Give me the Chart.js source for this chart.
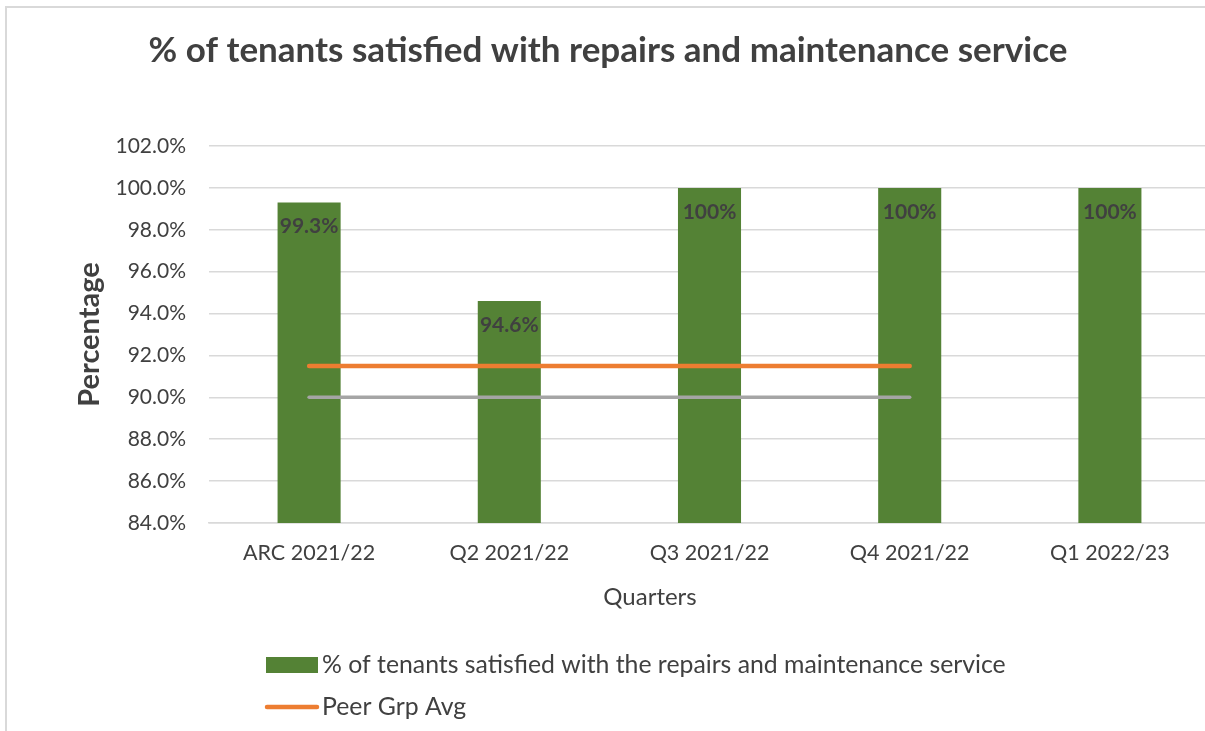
<!DOCTYPE html>
<html><head><meta charset="utf-8">
<script src="https://cdn.jsdelivr.net/npm/chart.js@4.4.0/dist/chart.umd.min.js"></script>
<style>
html,body{margin:0;padding:0;background:#fff;overflow:hidden;width:1205px;height:731px;}
#frame{position:absolute;left:5px;top:6px;width:1300px;height:800px;border:2px solid #D9D9D9;box-sizing:border-box;}
#wrap{position:absolute;left:0;top:0;width:1215px;height:731px;}
</style></head><body>
<div id="frame"></div>
<div id="wrap"><canvas id="c" width="1215" height="731"></canvas></div>
<script>
const categories = ['ARC 2021/22', 'Q2 2021/22', 'Q3 2021/22', 'Q4 2021/22', 'Q1 2022/23'];
const satisfied = [99.3, 94.6, 100, 100, 100];
const peerAvg = [91.5, 91.5, 91.5, 91.5, null];
const target = [90, 90, 90, 90, null];
const yTicks = [84, 86, 88, 90, 92, 94, 96, 98, 100, 102];

const FONT = "Lato, 'Open Sans', sans-serif";
const TXT = '#404040';

const dataLabels = {
  id: 'dataLabels',
  afterDatasetsDraw(chart) {
    const ctx = chart.ctx;
    const meta = chart.getDatasetMeta(0);
    ctx.save();
    ctx.font = 'bold 21px ' + FONT;
    ctx.fillStyle = TXT;
    ctx.textAlign = 'center';
    ctx.textBaseline = 'middle';
    meta.data.forEach((el, i) => {
      const v = chart.data.datasets[0].data[i];
      const t = (v === 100 ? '100' : v.toFixed(1)) + '%';
      ctx.fillText(t, el.x, el.y + 24);
    });
    ctx.restore();
  }
};

const customLegend = {
  id: 'customLegend',
  afterDraw(chart) {
    const ctx = chart.ctx;
    const ds = chart.data.datasets;
    ctx.save();
    // x axis title
    ctx.font = '24px ' + FONT;
    ctx.fillStyle = TXT;
    ctx.textAlign = 'center';
    ctx.textBaseline = 'middle';
    ctx.fillText('Quarters', 650, 597);
    // legend
    ctx.textAlign = 'left';
    const rows = [ds[0], ds[1]];
    rows.forEach((d, r) => {
      const cy = r === 0 ? 665 : 707;
      if (d.type === 'line') {
        ctx.strokeStyle = d.borderColor;
        ctx.lineWidth = 4.5;
        ctx.lineCap = 'round';
        ctx.beginPath();
        ctx.moveTo(267, cy);
        ctx.lineTo(317, cy);
        ctx.stroke();
      } else {
        ctx.fillStyle = d.backgroundColor;
        ctx.fillRect(266, cy - 8, 52, 16);
      }
      ctx.fillStyle = TXT;
      ctx.font = '24.8px ' + FONT;
      ctx.fillText(d.label, 322, cy);
    });
    ctx.restore();
  }
};

new Chart(document.getElementById('c'), {
  type: 'bar',
  data: {
    labels: categories,
    datasets: [
      {
        type: 'bar',
        label: '% of tenants satisfied with the repairs and maintenance service',
        data: satisfied,
        backgroundColor: '#548235',
        borderWidth: 0,
        barPercentage: 0.315,
        categoryPercentage: 1.0,
        order: 2
      },
      {
        type: 'line',
        label: 'Peer Grp Avg',
        data: peerAvg,
        borderColor: '#ED7D31',
        backgroundColor: '#ED7D31',
        borderWidth: 4.5,
        borderCapStyle: 'round',
        pointRadius: 0,
        tension: 0,
        order: 1
      },
      {
        type: 'line',
        label: 'Target',
        data: target,
        borderColor: '#A5A5A5',
        backgroundColor: '#A5A5A5',
        borderWidth: 3.5,
        borderCapStyle: 'round',
        pointRadius: 0,
        tension: 0,
        order: 1
      }
    ]
  },
  options: {
    responsive: false,
    animation: false,
    layout: { padding: { left: 6, right: 5, top: 7, bottom: 0 } },
    plugins: {
      legend: { display: false },
      tooltip: { enabled: false },
      title: {
        display: true,
        text: '% of tenants satisfied with repairs and maintenance service',
        color: TXT,
        font: { family: FONT, size: 35, weight: 'bold', lineHeight: 1.2 },
        padding: { top: 23, bottom: 74 }
      }
    },
    scales: {
      x: {
        grid: { display: false, drawTicks: false },
        border: { display: true, color: '#D9D9D9', width: 1.5 },
        ticks: { color: TXT, font: { family: FONT, size: 21.5 }, padding: 17, maxRotation: 0 },
        afterFit(s) { s.height = 208; }
      },
      y: {
        min: 84,
        max: 102,
        afterBuildTicks(s) { s.ticks = yTicks.map(v => ({ value: v })); },
        grid: { color: '#D9D9D9', lineWidth: 1.5, drawTicks: false },
        border: { display: false },
        ticks: {
          color: TXT,
          font: { family: FONT, size: 21 },
          padding: 23,
          callback: v => v.toFixed(1) + '%'
        },
        title: {
          display: true,
          text: 'Percentage',
          color: TXT,
          font: { family: FONT, size: 29, weight: 'bold', lineHeight: 1.2 },
          padding: { top: 66.6 }
        },
        afterFit(s) { s.width = 203; }
      }
    }
  },
  plugins: [dataLabels, customLegend]
});
</script>
</body></html>
